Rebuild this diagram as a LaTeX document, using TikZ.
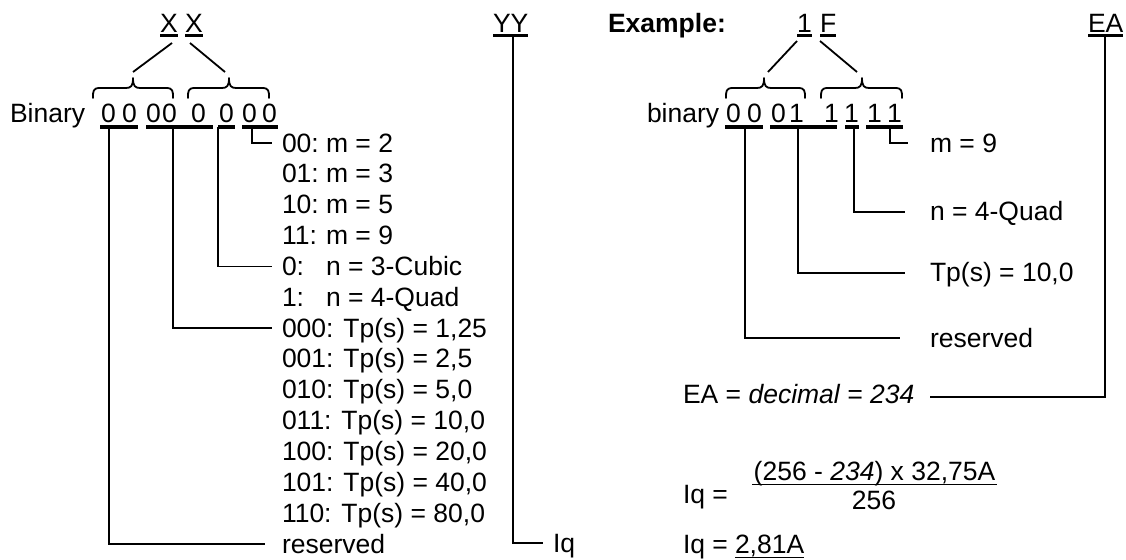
\documentclass[tikz,border=0pt]{standalone}
\usepackage{fontspec}
\setmainfont{Liberation Sans}
\usetikzlibrary{calc}
\newcommand\mybrace[3]{%
  \draw[brace] (#1,98) .. controls (#1,91) and (#1,88) .. (#1+7,88) -- (#2-7,88)
    .. controls (#2-2,88) and (#2,86) .. (#2,78)
    .. controls (#2,86) and (#2+2,88) .. (#2+7,88) -- (#3-7,88)
    .. controls (#3,88) and (#3,91) .. (#3,98);}
\begin{document}
\begin{tikzpicture}[x=1pt,y=-1pt,
  txt/.style={inner sep=0pt,outer sep=0pt,anchor=base west,font=\fontsize{26.5}{31}\selectfont},
  conn/.style={line width=1.8pt},
  ul/.style={line width=3.5pt},
  thinul/.style={line width=1.5pt},
  brace/.style={line width=1.8pt,line cap=round,line join=round}]
\useasboundingbox (0,0) rectangle (1126,559);

% ---------- top row ----------
\node[txt] (X1) at (160,33) {X};
\node[txt] (X2) at (185,33) {X};
\node[txt] (YY) at (493,33) {YY};
\node[txt] (ex) at (608,33) {\bfseries Example:};
\node[txt] (h1) at (797,33) {1};
\node[txt] (hF) at (820,33) {F};
\node[txt] (EA) at (1088,33) {EA};
\foreach \n in {X1,X2,YY,h1,hF,EA}
  \draw[ul] ($(\n.base west)+(0,2.5)$) -- ($(\n.base east)+(0,2.5)$);

% ---------- braces ----------
\mybrace{93}{133}{173}
\mybrace{188}{229}{269}
\mybrace{726}{764}{805}
\mybrace{821}{862}{902}
\coordinate (bt1) at (133,72);
\coordinate (bt2) at (225,72);
\coordinate (bt3) at (768,72);
\coordinate (bt4) at (857,72);
\coordinate (xu1) at (172,43);
\coordinate (xu2) at (190,43);
\coordinate (hu1) at (797,41);
\coordinate (hu2) at (820,41);
\draw[conn] (bt1) -- (xu1);
\draw[conn] (bt2) -- (xu2);
\draw[conn] (bt3) -- (hu1);
\draw[conn] (bt4) -- (hu2);

% ---------- left binary ----------
\node[txt] (bin) at (10,123) {Binary};
\foreach \x [count=\i] in {101,122,146,162,191,219,242,262}
  \node[txt] (L\i) at (\x,123) {0};
\draw[ul] (100,127) -- (138,127);
\draw[ul] (146,127) -- (213,127);
\draw[ul] (218,127) -- (235,127);
\draw[ul] (242,127) -- (278,127);
\coordinate (gLres) at (109,127);
\coordinate (gLtp) at (173,127);
\coordinate (gLn) at (218,127);
\coordinate (gLm) at (252,127);

% ---------- left rows ----------
\node[txt] (a0) at (282,152) {00:};      \node[txt] (v0) at (326,152) {m = 2};
\node[txt] (a1) at (282,182.85) {01:};   \node[txt] (v1) at (326,182.85) {m = 3};
\node[txt] (a2) at (282,213.7) {10:};    \node[txt] (v2) at (326,213.7) {m = 5};
\node[txt] (a3) at (282,244.55) {11:};   \node[txt] (v3) at (326,244.55) {m = 9};
\node[txt] (a4) at (282,275.4) {0:};     \node[txt] (v4) at (326,275.4) {n = 3-Cubic};
\node[txt] (a5) at (282,306.25) {1:};    \node[txt] (v5) at (326,306.25) {n = 4-Quad};
\node[txt] (a6) at (282,337.1) {000: Tp(s) = 1,25};
\node[txt] (a7) at (282,367.95) {001: Tp(s) = 2,5};
\node[txt] (a8) at (282,398.8) {010: Tp(s) = 5,0};
\node[txt] (a9) at (282,429.65) {011: Tp(s) = 10,0};
\node[txt] (a10) at (282,460.5) {100: Tp(s) = 20,0};
\node[txt] (a11) at (282,491.35) {101: Tp(s) = 40,0};
\node[txt] (a12) at (282,522.2) {110: Tp(s) = 80,0};
\node[txt] (a13) at (282,553.05) {reserved};

\coordinate (eLm) at (272,143);
\coordinate (eLn) at (272,266.4);
\coordinate (eLtp) at (272,328.1);
\coordinate (eLres) at (265,544);
\draw[conn] (gLm) |- (eLm);
\draw[conn] (gLn) |- (eLn);
\draw[conn] (gLtp) |- (eLtp);
\draw[conn] (gLres) |- (eLres);

% ---------- YY -> Iq ----------
\coordinate (yyU) at (513,35.5);
\coordinate (eIq) at (543,543);
\draw[conn] (yyU) |- (eIq);
\node[txt] (Iq1) at (553,552) {Iq};

% ---------- right binary ----------
\node[txt] (binr) at (647,123) {binary};
\foreach \x/\d [count=\i] in {726/0,747/0,771/0,789/1,824/1,844/1,867/1,887/1}
  \node[txt] (R\i) at (\x,123) {\d};
\draw[ul] (725,127) -- (763,127);
\draw[ul] (770,127) -- (837,127);
\draw[ul] (845,127) -- (859,127);
\draw[ul] (866,127) -- (903,127);
\coordinate (gRres) at (745,127);
\coordinate (gRtp) at (798,127);
\coordinate (gRn) at (854,127);
\coordinate (gRm) at (890,127);

\node[txt] (r0) at (930,152) {m = 9};
\node[txt] (r1) at (930,220) {n = 4-Quad};
\node[txt] (r2) at (930,281) {Tp(s) = 10,0};
\node[txt] (r3) at (930,347) {reserved};
\coordinate (eRm) at (908,143);
\coordinate (eRn) at (905,212);
\coordinate (eRtp) at (905,273);
\coordinate (eRres) at (900,338);
\draw[conn] (gRm) |- (eRm);
\draw[conn] (gRn) |- (eRn);
\draw[conn] (gRtp) |- (eRtp);
\draw[conn] (gRres) |- (eRres);

% ---------- EA computation ----------
\node[txt] (dec) at (683,403) {EA = \textit{decimal = 234}};
\coordinate (eaU) at (1105,35.5);
\coordinate (eEA) at (930,397);
\draw[conn] (eaU) |- (eEA);

\node[txt] (iq2) at (683,503) {Iq =};
\node[txt,anchor=base] (num) at (874.5,480) {(256 - \textit{234}) x 32,75A};
\coordinate (barL) at (752,484.5);
\coordinate (barR) at (997,484.5);
\draw[conn] (barL) -- (barR);
\node[txt,anchor=base] (den) at (874,509) {256};

\node[txt] (iq3) at (683,553) {Iq =};
\node[txt] (res) at (735,553) {2,81A};
\draw[thinul] ($(res.base west)+(0,4.5)$) -- ($(res.base east)+(0,4.5)$);
\end{tikzpicture}
\end{document}
